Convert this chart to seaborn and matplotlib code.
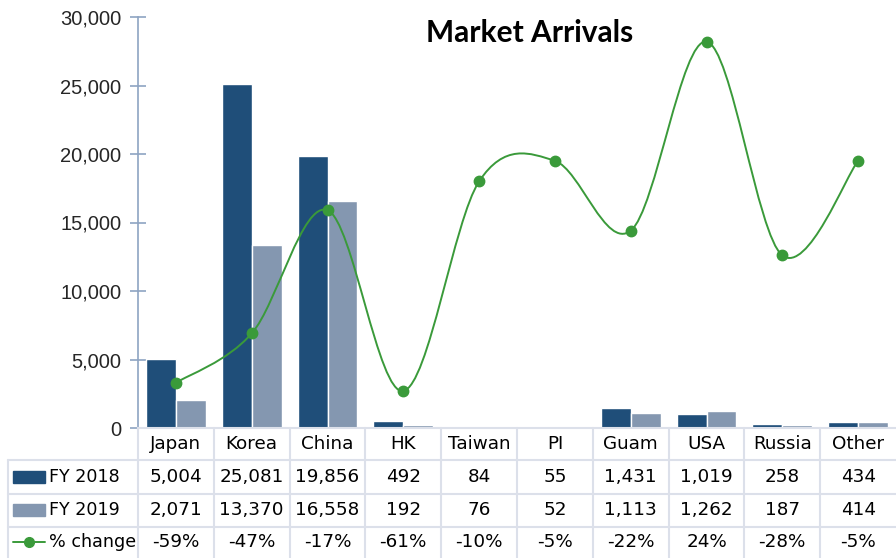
import numpy as np
import pandas as pd
import matplotlib
matplotlib.use('Agg')
import matplotlib.pyplot as plt
import matplotlib.transforms as mtransforms
from matplotlib.path import Path
from matplotlib.patches import PathPatch, Rectangle
from matplotlib.lines import Line2D
import seaborn as sns

# data
markets = ['Japan', 'Korea', 'China', 'HK', 'Taiwan', 'PI', 'Guam', 'USA', 'Russia', 'Other']
fy2018 = [5004, 25081, 19856, 492, 84, 55, 1431, 1019, 258, 434]
fy2019 = [2071, 13370, 16558, 192, 76, 52, 1113, 1262, 187, 414]
pct_change = [-59, -47, -17, -61, -10, -5, -22, 24, -28, -5]
yticks = [0, 5000, 10000, 15000, 20000, 25000, 30000]

dark = '#1F4E79'
light = '#8497B0'
green = '#3A9A3A'
grid_col = '#DCE0EA'
spine_col = '#8EA4C2'

sns.set_theme(style='white')
plt.rcParams['font.family'] = ['DejaVu Sans']

df = pd.DataFrame({
    'Market': markets * 2,
    'Arrivals': fy2018 + fy2019,
    'Year': ['FY 2018'] * len(markets) + ['FY 2019'] * len(markets),
})

W, H = 896, 558
fig = plt.figure(figsize=(W / 100, H / 100), dpi=100)
ax = fig.add_axes([138 / W, (H - 428) / H, (W - 138) / W, (428 - 17) / H])

sns.barplot(data=df, x='Market', y='Arrivals', hue='Year', palette=[dark, light],
            saturation=1, width=0.79, edgecolor='white', linewidth=1.0, legend=False, ax=ax)
ax.set_xlim(-0.5, len(markets) - 0.5)
ax.set_ylim(0, 30000)
ax.set_yticks(yticks)
ax.set_yticklabels([f'{v:,}' for v in yticks], fontfamily='Liberation Sans', fontsize=14.5)
ax.set_xticks([])
ax.set_xlabel('')
ax.set_ylabel('')
for s in ['top', 'right']:
    ax.spines[s].set_visible(False)
ax.spines['left'].set_color(spine_col)
ax.spines['left'].set_linewidth(1.2)
ax.spines['bottom'].set_color(grid_col)
ax.spines['bottom'].set_linewidth(1.5)
ax.tick_params(axis='y', direction='inout', length=12, width=1.2, color=spine_col, pad=6, left=True)

# % change line on a hidden secondary axis, smoothed like Excel
ax2 = ax.twinx()
ax2.set_ylim(-70, 30)
ax2.axis('off')
x = np.arange(len(markets))
pts = np.column_stack([x, pct_change]).astype(float)
verts = [pts[0]]
codes = [Path.MOVETO]
n = len(pts)
for i in range(n - 1):
    p0 = pts[i - 1] if i > 0 else pts[i]
    p1 = pts[i]
    p2 = pts[i + 1]
    p3 = pts[i + 2] if i + 2 < n else pts[i + 1]
    c1 = p1 + (p2 - p0) / 6
    c2 = p2 - (p3 - p1) / 6
    verts += [c1, c2, p2]
    codes += [Path.CURVE4] * 3
ax2.add_patch(PathPatch(Path(verts, codes), facecolor='none', edgecolor=green, lw=1.4))
ax2.plot(x, pct_change, 'o', color=green, markersize=7.5, zorder=5)

# title
fig.text(530 / W, 1 - 33 / H, 'Market Arrivals', ha='center', va='center',
         fontsize=21.5, fontweight='bold', fontfamily='Lato', color='black')

# data table below the axis
tr = mtransforms.blended_transform_factory(ax.transData, fig.transFigure)
def fy(py):
    return 1 - py / H

bounds = np.arange(len(markets)) - 0.5
for b in bounds:
    fig.add_artist(Line2D([b, b], [fy(428), fy(H)], transform=tr, color=grid_col, lw=1.5))
fig.add_artist(Line2D([8 / W, 8 / W], [fy(460), fy(H)], transform=fig.transFigure, color=grid_col, lw=1.5))
for py in [460, 494, 527]:
    fig.add_artist(Line2D([8 / W, 1], [fy(py), fy(py)], transform=fig.transFigure, color=grid_col, lw=1.5))

row_y = [444, 477, 510, 542]
tfont = dict(fontsize=13.2, color='black', ha='center', va='center')
for i, m in enumerate(markets):
    fig.text(i, fy(row_y[0]), m, transform=tr, **tfont)
    fig.text(i, fy(row_y[1]), f'{fy2018[i]:,}', transform=tr, **tfont)
    fig.text(i, fy(row_y[2]), f'{fy2019[i]:,}', transform=tr, **tfont)
    fig.text(i, fy(row_y[3]), f'{pct_change[i]}%', transform=tr, **tfont)

# row labels with legend keys
fig.add_artist(Rectangle((13 / W, fy(483)), 32 / W, 12 / H, transform=fig.transFigure, color=dark))
fig.add_artist(Rectangle((13 / W, fy(516)), 32 / W, 12 / H, transform=fig.transFigure, color=light))
fig.add_artist(Line2D([13 / W, 45 / W], [fy(542), fy(542)], transform=fig.transFigure, color=green, lw=1.4))
fig.add_artist(Line2D([29 / W], [fy(542)], transform=fig.transFigure, color=green, marker='o', markersize=7))
for lbl, py in zip(['FY 2018', 'FY 2019', '% change'], row_y[1:]):
    fig.text(49 / W, fy(py), lbl, ha='left', va='center', fontsize=12.6, color='black')

fig.savefig('out.png', dpi=100)
